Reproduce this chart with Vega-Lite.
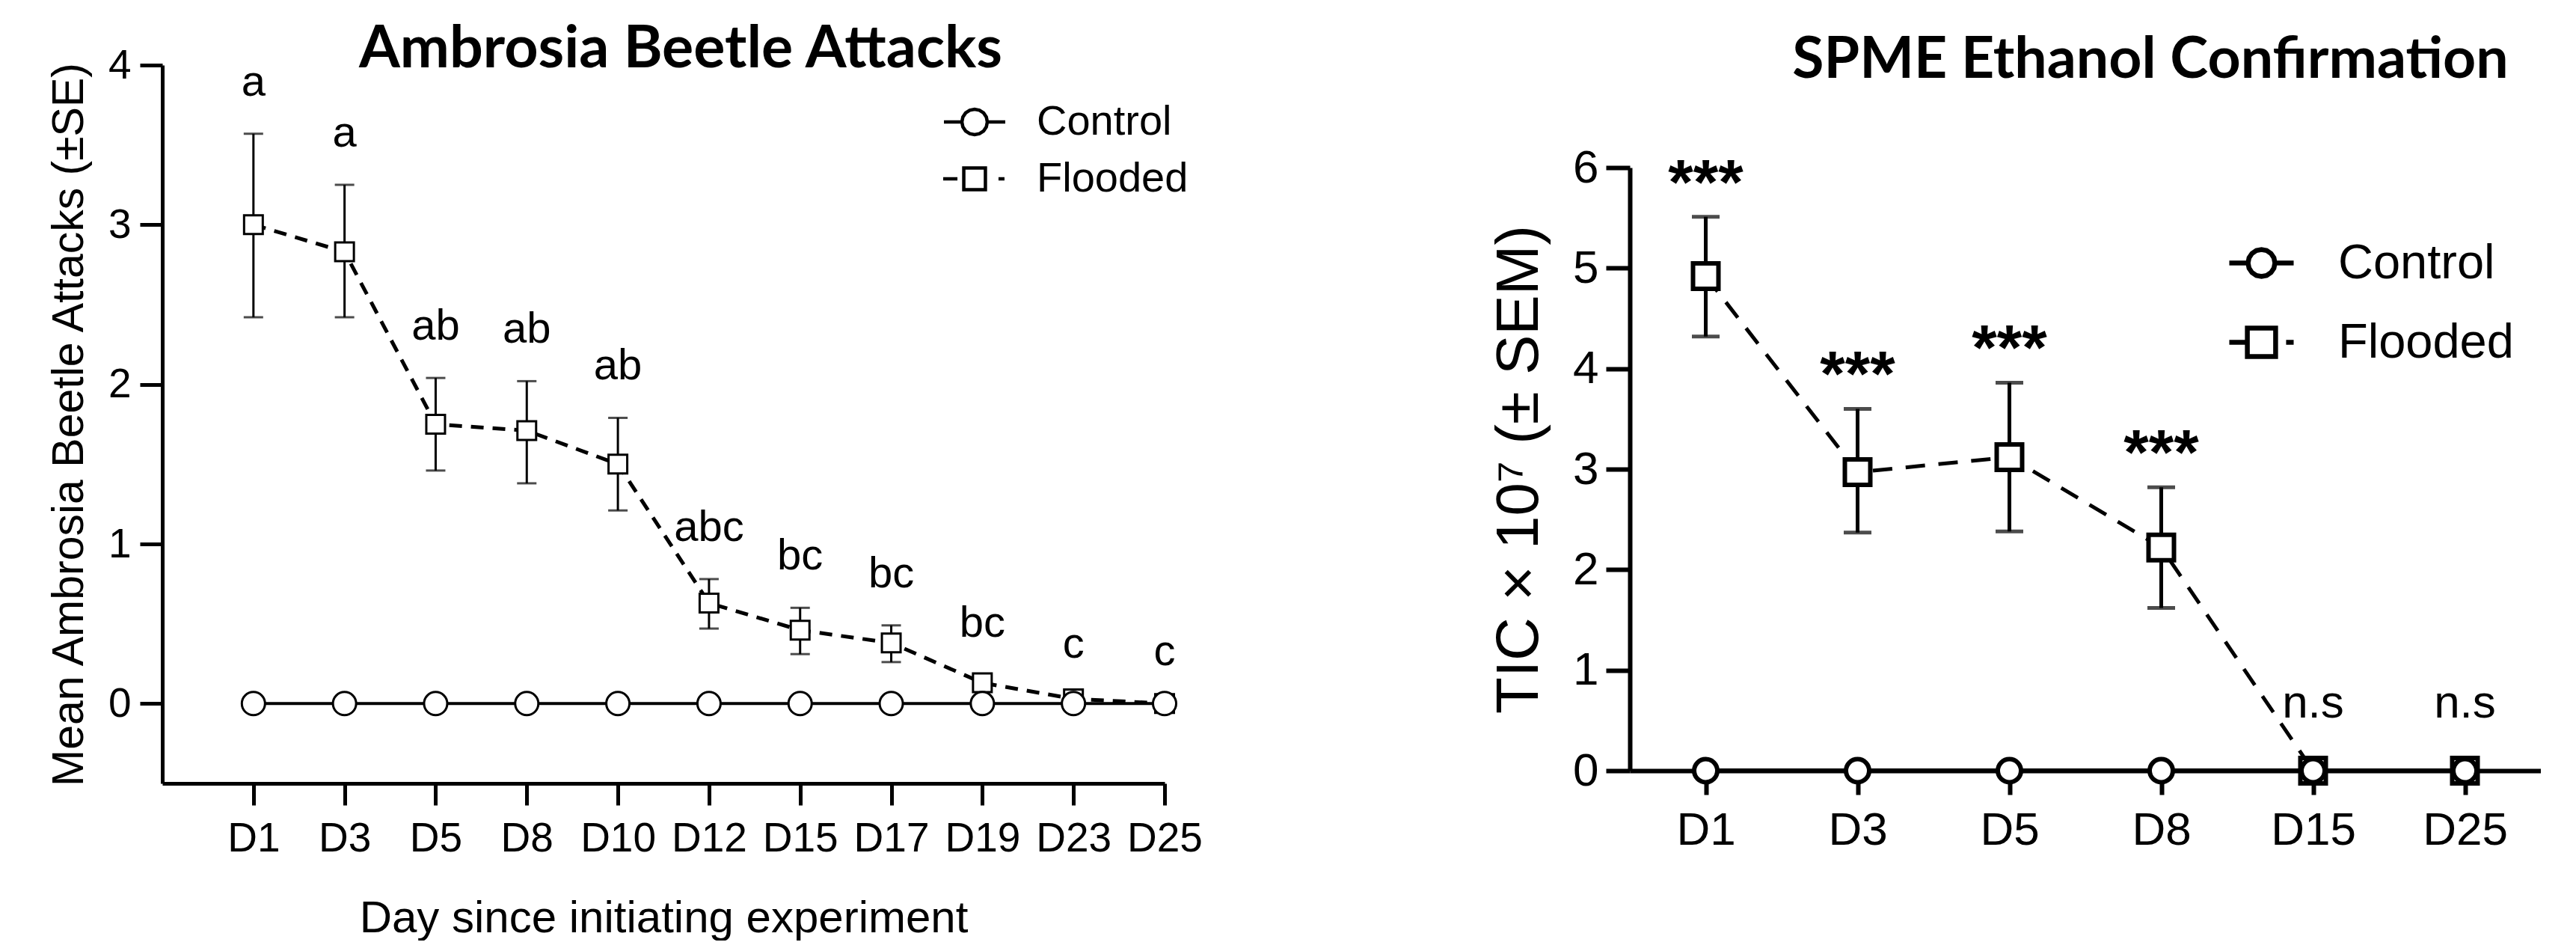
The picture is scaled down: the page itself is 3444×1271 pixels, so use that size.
{
  "$schema": "https://vega.github.io/schema/vega-lite/v6.json",
  "background": "white",
  "padding": {"left": 63, "top": 27, "right": 0, "bottom": 0},
  "spacing": 622,
  "bounds": "flush",
  "resolve": {"scale": {"shape": "independent"}, "legend": {"shape": "independent"}},
  "datasets": {
    "beetle": [
      {"day": "D1", "group": "Control", "mean": 0, "lo": 0, "hi": 0, "letter": ""},
      {"day": "D3", "group": "Control", "mean": 0, "lo": 0, "hi": 0, "letter": ""},
      {"day": "D5", "group": "Control", "mean": 0, "lo": 0, "hi": 0, "letter": ""},
      {"day": "D8", "group": "Control", "mean": 0, "lo": 0, "hi": 0, "letter": ""},
      {"day": "D10", "group": "Control", "mean": 0, "lo": 0, "hi": 0, "letter": ""},
      {"day": "D12", "group": "Control", "mean": 0, "lo": 0, "hi": 0, "letter": ""},
      {"day": "D15", "group": "Control", "mean": 0, "lo": 0, "hi": 0, "letter": ""},
      {"day": "D17", "group": "Control", "mean": 0, "lo": 0, "hi": 0, "letter": ""},
      {"day": "D19", "group": "Control", "mean": 0, "lo": 0, "hi": 0, "letter": ""},
      {"day": "D23", "group": "Control", "mean": 0, "lo": 0, "hi": 0, "letter": ""},
      {"day": "D25", "group": "Control", "mean": 0, "lo": 0, "hi": 0, "letter": ""},
      {"day": "D1", "group": "Flooded", "mean": 3.0, "lo": 2.42, "hi": 3.57, "letter": "a"},
      {"day": "D3", "group": "Flooded", "mean": 2.83, "lo": 2.42, "hi": 3.25, "letter": "a"},
      {"day": "D5", "group": "Flooded", "mean": 1.75, "lo": 1.46, "hi": 2.04, "letter": "ab"},
      {"day": "D8", "group": "Flooded", "mean": 1.71, "lo": 1.38, "hi": 2.02, "letter": "ab"},
      {"day": "D10", "group": "Flooded", "mean": 1.5, "lo": 1.21, "hi": 1.79, "letter": "ab"},
      {"day": "D12", "group": "Flooded", "mean": 0.63, "lo": 0.47, "hi": 0.78, "letter": "abc"},
      {"day": "D15", "group": "Flooded", "mean": 0.46, "lo": 0.31, "hi": 0.6, "letter": "bc"},
      {"day": "D17", "group": "Flooded", "mean": 0.38, "lo": 0.26, "hi": 0.49, "letter": "bc"},
      {"day": "D19", "group": "Flooded", "mean": 0.13, "lo": 0.08, "hi": 0.18, "letter": "bc"},
      {"day": "D23", "group": "Flooded", "mean": 0.03, "lo": 0.01, "hi": 0.05, "letter": "c"},
      {"day": "D25", "group": "Flooded", "mean": 0.0, "lo": 0, "hi": 0, "letter": "c"}
    ],
    "tic": [
      {"day": "D1", "group": "Control", "mean": 0, "lo": 0, "hi": 0, "sig": ""},
      {"day": "D3", "group": "Control", "mean": 0, "lo": 0, "hi": 0, "sig": ""},
      {"day": "D5", "group": "Control", "mean": 0, "lo": 0, "hi": 0, "sig": ""},
      {"day": "D8", "group": "Control", "mean": 0, "lo": 0, "hi": 0, "sig": ""},
      {"day": "D15", "group": "Control", "mean": 0, "lo": 0, "hi": 0, "sig": ""},
      {"day": "D25", "group": "Control", "mean": 0, "lo": 0, "hi": 0, "sig": ""},
      {"day": "D1", "group": "Flooded", "mean": 4.92, "lo": 4.32, "hi": 5.51, "sig": "***"},
      {"day": "D3", "group": "Flooded", "mean": 2.97, "lo": 2.37, "hi": 3.6, "sig": "***"},
      {"day": "D5", "group": "Flooded", "mean": 3.12, "lo": 2.38, "hi": 3.86, "sig": "***"},
      {"day": "D8", "group": "Flooded", "mean": 2.22, "lo": 1.62, "hi": 2.82, "sig": "***"},
      {"day": "D15", "group": "Flooded", "mean": 0, "lo": 0, "hi": 0, "sig": "n.s"},
      {"day": "D25", "group": "Flooded", "mean": 0, "lo": 0, "hi": 0, "sig": "n.s"}
    ]
  },
  "config": {
    "view": {"stroke": null},
    "axis": {"grid": false, "domainColor": "black", "tickColor": "black", "labelColor": "black", "titleColor": "black", "labelFont": "Liberation Sans", "titleFont": "Liberation Sans", "titleFontWeight": "normal"},
    "legend": {"labelFont": "Liberation Sans", "labelColor": "black", "labelLimit": 600},
    "title": {"color": "black", "font": "Lato", "fontWeight": "bold"}
  },
  "hconcat": [
    {
      "width": 1340,
      "height": 960,
      "title": {"text": "Ambrosia Beetle Attacks", "fontSize": 79, "anchor": "middle", "frame": "group", "dx": 23, "offset": -109, "baseline": "alphabetic"},
      "data": {"name": "beetle"},
      "encoding": {
        "x": {"field": "day", "type": "nominal", "sort": null, "scale": {"type": "point", "padding": 0.5, "align": 1},
          "axis": {"title": "Day since initiating experiment", "titleFontSize": 60, "titlePadding": 50, "labelFontSize": 55, "labelAngle": 0, "labelPadding": 18, "tickSize": 29, "tickWidth": 5, "domainWidth": 5}}
      },
      "layer": [
        {
          "transform": [{"filter": "datum.group == 'Flooded'"}],
          "mark": {"type": "rule", "color": "black", "strokeWidth": 3},
          "encoding": {
            "y": {"field": "lo", "type": "quantitative", "title": "Mean Ambrosia Beetle Attacks (±SE)", "scale": {"domain": [-0.5, 4], "nice": false, "zero": false},
              "axis": {"values": [0, 1, 2, 3, 4], "format": "d", "titleFontSize": 59, "titlePadding": 22, "labelFontSize": 55, "labelPadding": 12, "tickSize": 30, "tickWidth": 5, "domainWidth": 5}},
            "y2": {"field": "hi"}
          }
        },
        {
          "transform": [{"filter": "datum.group == 'Flooded'"}],
          "mark": {"type": "tick", "color": "black", "size": 26, "thickness": 3},
          "encoding": {"y": {"field": "hi", "type": "quantitative", "title": "Mean Ambrosia Beetle Attacks (±SE)", "scale": {"domain": [-0.5, 4], "nice": false, "zero": false}}}
        },
        {
          "transform": [{"filter": "datum.group == 'Flooded'"}],
          "mark": {"type": "tick", "color": "black", "size": 26, "thickness": 3},
          "encoding": {"y": {"field": "lo", "type": "quantitative", "title": "Mean Ambrosia Beetle Attacks (±SE)", "scale": {"domain": [-0.5, 4], "nice": false, "zero": false}}}
        },
        {
          "transform": [{"filter": "datum.group == 'Control'"}],
          "mark": {"type": "line", "color": "black", "strokeWidth": 4},
          "encoding": {"y": {"field": "mean", "type": "quantitative", "title": "Mean Ambrosia Beetle Attacks (±SE)", "scale": {"domain": [-0.5, 4], "nice": false, "zero": false}}}
        },
        {
          "transform": [{"filter": "datum.group == 'Flooded'"}],
          "mark": {"type": "line", "color": "black", "strokeWidth": 5, "strokeDash": [17, 12]},
          "encoding": {"y": {"field": "mean", "type": "quantitative", "title": "Mean Ambrosia Beetle Attacks (±SE)", "scale": {"domain": [-0.5, 4], "nice": false, "zero": false}}}
        },
        {
          "transform": [{"filter": "datum.group == 'Flooded'"}],
          "mark": {"type": "point", "shape": "square", "filled": true, "fill": "white", "stroke": "black", "strokeWidth": 3, "size": 625, "opacity": 1},
          "encoding": {"y": {"field": "mean", "type": "quantitative", "title": "Mean Ambrosia Beetle Attacks (±SE)", "scale": {"domain": [-0.5, 4], "nice": false, "zero": false}}}
        },
        {
          "transform": [{"filter": "datum.group == 'Control'"}],
          "mark": {"type": "point", "shape": "circle", "filled": true, "fill": "white", "stroke": "black", "strokeWidth": 3, "size": 961, "opacity": 1},
          "encoding": {"y": {"field": "mean", "type": "quantitative", "title": "Mean Ambrosia Beetle Attacks (±SE)", "scale": {"domain": [-0.5, 4], "nice": false, "zero": false}}}
        },
        {
          "transform": [{"filter": "datum.group == 'Flooded'"}],
          "mark": {"type": "text", "font": "Liberation Sans", "fontSize": 58, "color": "black", "baseline": "alphabetic", "dy": -51},
          "encoding": {
            "y": {"field": "hi", "type": "quantitative", "title": "Mean Ambrosia Beetle Attacks (±SE)", "scale": {"domain": [-0.5, 4], "nice": false, "zero": false}},
            "text": {"field": "letter"}
          }
        },
        {
          "transform": [{"filter": "false"}],
          "mark": {"type": "point", "filled": false, "color": "black", "opacity": 1, "strokeWidth": 4.5, "size": 1156},
          "encoding": {
            "y": {"field": "mean", "type": "quantitative", "title": "Mean Ambrosia Beetle Attacks (±SE)", "scale": {"domain": [-0.5, 4], "nice": false, "zero": false}},
            "shape": {"field": "group", "type": "nominal",
              "scale": {"domain": ["Control", "Flooded"], "range": ["M-2.41,0L-1,0M1,0L2.41,0M1,0L0.924,0.383L0.707,0.707L0.383,0.924L0,1L-0.383,0.924L-0.707,0.707L-0.924,0.383L-1,0L-0.924,-0.383L-0.707,-0.707L-0.383,-0.924L0,-1L0.383,-0.924L0.707,-0.707L0.924,-0.383Z", "M-2.47,0L-1.35,0M1.88,0L2.35,0M-0.85,-0.85L0.85,-0.85L0.85,0.85L-0.85,0.85Z"]},
              "legend": {"title": null, "orient": "none", "legendX": 1058, "legendY": 48, "labelFontSize": 56, "symbolSize": 1156, "symbolStrokeWidth": 4.5, "padding": 0, "labelOffset": 55, "rowPadding": 20}}
          }
        }
      ]
    },
    {
      "width": 1218,
      "height": 943,
      "title": {"text": "SPME Ethanol Confirmation", "fontSize": 77, "anchor": "middle", "frame": "group", "dx": 87, "offset": -94, "baseline": "alphabetic"},
      "data": {"name": "tic"},
      "encoding": {
        "x": {"field": "day", "type": "nominal", "sort": null, "scale": {"type": "point", "padding": 0.5},
          "axis": {"title": null, "labelFontSize": 62, "labelAngle": 0, "labelPadding": 17, "tickSize": 32, "tickWidth": 6, "domainWidth": 6}}
      },
      "layer": [
        {
          "transform": [{"filter": "datum.group == 'Flooded' && datum.hi > 0"}],
          "mark": {"type": "rule", "color": "black", "strokeWidth": 5},
          "encoding": {
            "y": {"field": "lo", "type": "quantitative", "title": "TIC × 10⁷ (± SEM)", "scale": {"domain": [0, 6], "range": [943, 137], "nice": false},
              "axis": {"values": [0, 1, 2, 3, 4, 5, 6], "format": "d", "titleFontSize": 80, "titlePadding": 30, "labelFontSize": 62, "labelPadding": 10, "tickSize": 32, "tickWidth": 6, "domainWidth": 6}},
            "y2": {"field": "hi"}
          }
        },
        {
          "transform": [{"filter": "datum.group == 'Flooded' && datum.hi > 0"}],
          "mark": {"type": "tick", "color": "black", "size": 37, "thickness": 5},
          "encoding": {"y": {"field": "hi", "type": "quantitative", "title": "TIC × 10⁷ (± SEM)", "scale": {"domain": [0, 6], "range": [943, 137], "nice": false}}}
        },
        {
          "transform": [{"filter": "datum.group == 'Flooded' && datum.hi > 0"}],
          "mark": {"type": "tick", "color": "black", "size": 37, "thickness": 5},
          "encoding": {"y": {"field": "lo", "type": "quantitative", "title": "TIC × 10⁷ (± SEM)", "scale": {"domain": [0, 6], "range": [943, 137], "nice": false}}}
        },
        {
          "transform": [{"filter": "datum.group == 'Control'"}],
          "mark": {"type": "line", "color": "black", "strokeWidth": 6},
          "encoding": {"y": {"field": "mean", "type": "quantitative", "title": "TIC × 10⁷ (± SEM)", "scale": {"domain": [0, 6], "range": [943, 137], "nice": false}}}
        },
        {
          "transform": [{"filter": "datum.group == 'Flooded'"}],
          "mark": {"type": "line", "color": "black", "strokeWidth": 5, "strokeDash": [26, 18]},
          "encoding": {"y": {"field": "mean", "type": "quantitative", "title": "TIC × 10⁷ (± SEM)", "scale": {"domain": [0, 6], "range": [943, 137], "nice": false}}}
        },
        {
          "transform": [{"filter": "datum.group == 'Flooded'"}],
          "mark": {"type": "point", "shape": "square", "filled": true, "fill": "white", "stroke": "black", "strokeWidth": 6, "size": 1156, "opacity": 1},
          "encoding": {"y": {"field": "mean", "type": "quantitative", "title": "TIC × 10⁷ (± SEM)", "scale": {"domain": [0, 6], "range": [943, 137], "nice": false}}}
        },
        {
          "transform": [{"filter": "datum.group == 'Control'"}],
          "mark": {"type": "point", "shape": "circle", "filled": true, "fill": "white", "stroke": "black", "strokeWidth": 6, "size": 961, "opacity": 1},
          "encoding": {"y": {"field": "mean", "type": "quantitative", "title": "TIC × 10⁷ (± SEM)", "scale": {"domain": [0, 6], "range": [943, 137], "nice": false}}}
        },
        {
          "transform": [{"filter": "datum.sig == '***'"}],
          "mark": {"type": "text", "font": "Liberation Sans", "fontSize": 86, "fontWeight": "bold", "color": "black", "baseline": "alphabetic", "dy": -17},
          "encoding": {
            "y": {"field": "hi", "type": "quantitative", "title": "TIC × 10⁷ (± SEM)", "scale": {"domain": [0, 6], "range": [943, 137], "nice": false}},
            "text": {"field": "sig"}
          }
        },
        {
          "transform": [{"filter": "datum.sig == 'n.s'"}],
          "mark": {"type": "text", "font": "Liberation Sans", "fontSize": 62, "color": "black", "baseline": "alphabetic", "dy": -71},
          "encoding": {
            "y": {"field": "hi", "type": "quantitative", "title": "TIC × 10⁷ (± SEM)", "scale": {"domain": [0, 6], "range": [943, 137], "nice": false}},
            "text": {"field": "sig"}
          }
        },
        {
          "transform": [{"filter": "false"}],
          "mark": {"type": "point", "filled": false, "color": "black", "opacity": 1, "strokeWidth": 6.5, "size": 1296},
          "encoding": {
            "y": {"field": "mean", "type": "quantitative", "title": "TIC × 10⁷ (± SEM)", "scale": {"domain": [0, 6], "range": [943, 137], "nice": false}},
            "shape": {"field": "group", "type": "nominal",
              "scale": {"domain": ["Control", "Flooded"], "range": ["M-2.39,0L-1,0M1,0L2.39,0M1,0L0.924,0.383L0.707,0.707L0.383,0.924L0,1L-0.383,0.924L-0.707,0.707L-0.924,0.383L-1,0L-0.924,-0.383L-0.707,-0.707L-0.383,-0.924L0,-1L0.383,-0.924L0.707,-0.707L0.924,-0.383Z", "M-2.39,0L-1.22,0M1.83,0L2.39,0M-1.05,-1.05L1.05,-1.05L1.05,1.05L-1.05,1.05Z"]},
              "legend": {"title": null, "orient": "none", "legendX": 812, "legendY": 232, "labelFontSize": 65, "symbolSize": 1296, "symbolStrokeWidth": 6.5, "padding": 0, "labelOffset": 70, "rowPadding": 40}}
          }
        }
      ]
    }
  ]
}
